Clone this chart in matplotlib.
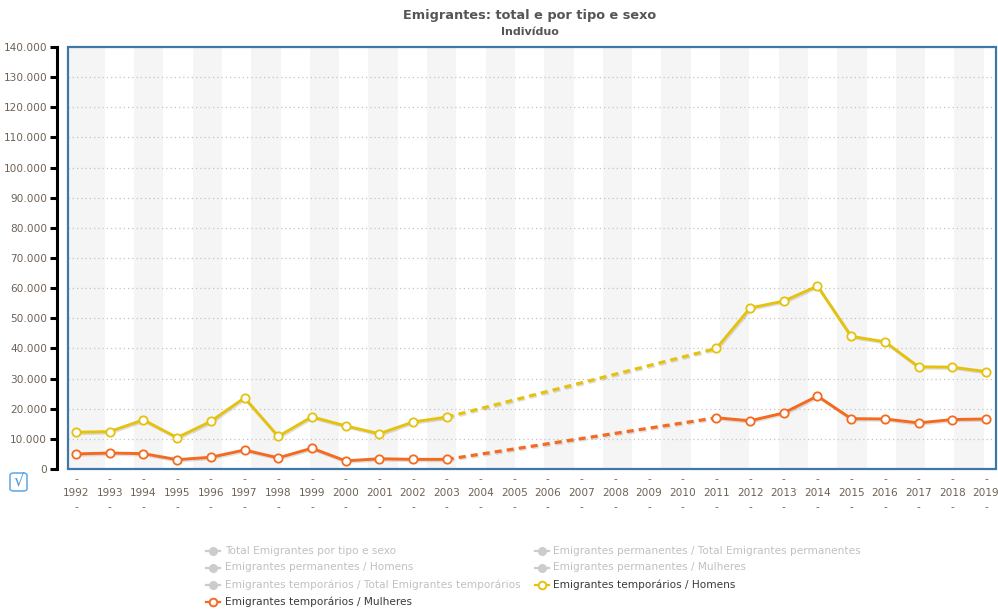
import numpy as np
import matplotlib
matplotlib.use("Agg")
import matplotlib.pyplot as plt
from matplotlib.lines import Line2D
from matplotlib.patches import Rectangle, FancyBboxPatch
import matplotlib.patheffects as pe
import matplotlib.ticker as mticker

# data, NaN = no value published
years = list(range(1992, 2020))
homens = [12200, 12400, 16300, 10400, 15800, 23600, 10800, 17300, 14300, 11700, 15600, 17200,
          np.nan, np.nan, np.nan, np.nan, np.nan, np.nan, np.nan,
          40000, 53400, 55700, 60700, 44000, 42200, 33900, 33800, 32300]
mulheres = [5000, 5300, 5100, 3100, 3900, 6300, 3700, 6900, 2700, 3400, 3200, 3200,
            np.nan, np.nan, np.nan, np.nan, np.nan, np.nan, np.nan,
            17000, 16000, 18600, 24200, 16700, 16600, 15300, 16400, 16600]
y_ticks = list(range(0, 140001, 10000))

legend_labels = ["Total Emigrantes por tipo e sexo",
                 "Emigrantes permanentes / Total Emigrantes permanentes",
                 "Emigrantes permanentes / Homens",
                 "Emigrantes permanentes / Mulheres",
                 "Emigrantes temporários / Total Emigrantes temporários",
                 "Emigrantes temporários / Homens",
                 "Emigrantes temporários / Mulheres"]
legend_active = [False, False, False, False, False, True, True]

YELLOW = "#e4c20f"
ORANGE = "#f46b1f"
FRAME = "#3f77a6"
TXT = "#6e6256"

plt.rcParams['font.family'] = ['DejaVu Sans']

fig = plt.figure(figsize=(9.98, 6.10), dpi=100)
ax = fig.add_axes([68/998, 1-469/610, 928/998, 422/610])

x = np.array(years, dtype=float)
ax.set_xlim(1991.763, 2019.297)
ax.set_ylim(0, 140000)

# alternating vertical bands (styling only, in axes fractions)
W = 928.0
for k in range(17):
    start = (75.4 - 68 + 58.6*k) / W
    if start >= 1:
        break
    ax.add_patch(Rectangle((start, 0), min(29.3/W, 1-start), 1, transform=ax.transAxes,
                           facecolor="#f5f5f5", edgecolor="none", zorder=0))
ax.add_patch(Rectangle((0, 0), 7.4/W, 1, transform=ax.transAxes,
                       facecolor="#f5f5f5", edgecolor="none", zorder=0))

# horizontal dotted grid
for v in y_ticks[1:]:
    ax.axhline(v, color="#c4c4c4", lw=0.9, ls=(0, (1, 2.4)), zorder=1)

shadow = [pe.SimpleLineShadow(offset=(0.8, -1.0), shadow_color="#000000", alpha=0.12), pe.Normal()]


def draw_series(vals, color):
    vals = np.array(vals, dtype=float)
    ok = ~np.isnan(vals)
    # dotted bridge over gaps
    idx = np.where(ok)[0]
    for a, b in zip(idx[:-1], idx[1:]):
        if b - a > 1:
            ax.plot([x[a], x[b]], [vals[a], vals[b]], color=color, lw=2.3,
                    ls=(0, (2.2, 1.6)), zorder=3, path_effects=shadow)
    ax.plot(x, vals, color=color, lw=2.1, zorder=4, path_effects=shadow)
    ax.plot(x[ok], vals[ok], ls="none", marker="o", ms=6, mfc="white", mec=color,
            mew=1.3, zorder=5)


draw_series(homens, YELLOW)
draw_series(mulheres, ORANGE)

# frame
for s in ax.spines.values():
    s.set_visible(False)
ax.add_patch(Rectangle((0, 0), 1, 1, transform=ax.transAxes, fill=False,
                       edgecolor=FRAME, lw=1.6, zorder=10, clip_on=False))
ax.spines['left'].set_visible(True)
ax.spines['left'].set_position(('outward', 8))
ax.spines['left'].set_color("black")
ax.spines['left'].set_linewidth(2.2)

ax.set_yticks(y_ticks)
ax.yaxis.set_major_formatter(mticker.FuncFormatter(lambda v, p: f"{int(v):,}".replace(",", ".")))
ax.tick_params(axis='y', direction='out', length=5, width=2.2, color="black",
               labelsize=7.6, labelcolor=TXT, pad=2)

ax.set_xticks(years)
ax.set_xticklabels([f"-\n{y}\n-" for y in years], linespacing=1.45)
ax.tick_params(axis='x', length=0, labelsize=7.6, labelcolor=TXT, pad=4)

# titles
fig.text(530/998, 1-16/610, "Emigrantes: total e por tipo e sexo", ha="center", va="center",
         fontsize=9.3, fontweight="bold", color="#555555")
fig.text(530/998, 1-32/610, "Indivíduo", ha="center", va="center",
         fontsize=8, fontweight="bold", color="#555555")

# checkbox
fig.add_artist(FancyBboxPatch((10/998, 1-491/610), 17/998, 18/610,
                              boxstyle="round,pad=0,rounding_size=0.004",
                              transform=fig.transFigure, facecolor="white",
                              edgecolor="#6aaee8", lw=1.2))
fig.text(18.5/998, 1-482/610, "√", ha="center", va="center", fontsize=12, color="#4a9be0")

# legend (two columns)
col_m = [213, 542]
col_t = [225, 553]
rows = [551, 567.5, 584.5, 601.5]
series_col = {5: YELLOW, 6: ORANGE}
for i, (lab, act) in enumerate(zip(legend_labels, legend_active)):
    c, r = i % 2, i // 2
    xm, xt, yy = col_m[c], col_t[c], 1 - rows[r]/610
    if act:
        col = series_col[i]
        fig.add_artist(Line2D([(xm-7)/998, (xm+7)/998], [yy, yy], color=col, lw=1.6,
                              transform=fig.transFigure))
        fig.add_artist(Line2D([xm/998], [yy], marker="o", ms=5.5, mfc="white", mec=col,
                              mew=1.4, transform=fig.transFigure))
        tc = "#3a3a3a"
    else:
        fig.add_artist(Line2D([(xm-7)/998, (xm+7)/998], [yy, yy], color="#cccccc", lw=1.6,
                              transform=fig.transFigure))
        fig.add_artist(Line2D([xm/998], [yy], marker="o", ms=5.5, mfc="#cccccc", mec="#cccccc",
                              transform=fig.transFigure))
        tc = "#c0c0c0"
    fig.text(xt/998, yy, lab, ha="left", va="center", fontsize=7.6, color=tc)

fig.savefig("out.png", dpi=100)
